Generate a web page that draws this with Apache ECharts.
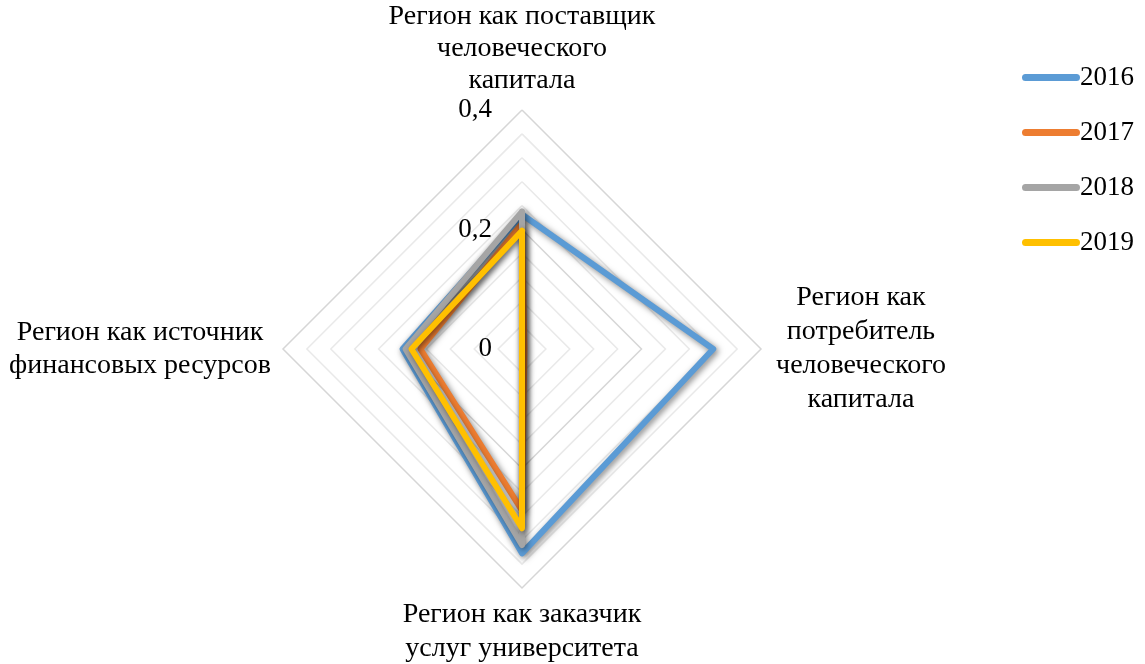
<!DOCTYPE html>
<html>
<head>
<meta charset="utf-8">
<script src="https://cdn.jsdelivr.net/npm/echarts@6/dist/echarts.min.js"></script>
<style>
  html, body { margin: 0; padding: 0; background: #ffffff; }
  #chart { width: 1145px; height: 664px; }
</style>
</head>
<body>
<div id="chart"></div>
<script>
// Indicators, listed counter-clockwise starting from the top axis
const categories = [
  'Регион как поставщик\nчеловеческого\nкапитала',
  'Регион как источник\nфинансовых ресурсов',
  'Регион как заказчик\nуслуг университета',
  'Регион как\nпотребитель\nчеловеческого\nкапитала'
];
const years = ['2016', '2017', '2018', '2019'];
const values2016 = [0.225, 0.200, 0.342, 0.320];
const values2017 = [0.210, 0.170, 0.270, 0.004];
const values2018 = [0.230, 0.195, 0.328, 0.000];
const values2019 = [0.198, 0.185, 0.300, 0.000];
const tickValues = [0, 0.2, 0.4];
const tickLabels = ['0', '0,2', '0,4'];

const seriesValues = [values2016, values2017, values2018, values2019];
const colors = ['#5b9bd5', '#ed7d31', '#a5a5a5', '#ffc000'];
const fontFamily = '"Liberation Serif", "Times New Roman", serif';
const fontSize = 28;
const axisMax = 0.4;

// Rich-text tag per axis title (sets the box the lines are centred in)
const nameTag = ['t', 'l', 'b', 'r'];

// Rings: major ones at 0.2 and 0.4 are a touch darker than the minor ones
const ringColors = [];
for (let i = 0; i <= 10; i++) {
  ringColors.push(i % 5 === 0 ? '#d6d6d6' : '#e9e9e9');
}

const chart = echarts.init(document.getElementById('chart'), null, { renderer: 'canvas' });

chart.setOption({
  backgroundColor: '#ffffff',
  animation: false,
  color: colors,
  legend: {
    orient: 'vertical',
    left: 1017,
    top: 57,
    itemWidth: 58,
    itemHeight: 7,
    itemGap: 24,
    icon: 'path://M3.5,0 L54.5,0 A3.5,3.5 0 0 1 54.5,7 L3.5,7 A3.5,3.5 0 0 1 3.5,0 Z',
    textStyle: { fontFamily: fontFamily, fontSize: 27, color: '#000', padding: [0, 0, 0, -5], lineHeight: 31 },
    data: years
  },
  radar: {
    center: [522, 349],
    radius: 239,
    shape: 'polygon',
    startAngle: 90,
    splitNumber: 10,
    nameGap: 10,
    indicator: categories.map(function (name, i) {
      const ind = { name: name, min: 0, max: axisMax };
      if (i === 0) {
        ind.axisLabel = {
          show: true,
          fontFamily: fontFamily,
          fontSize: 27,
          color: '#000',
          margin: 30,
          formatter: function (v) {
            for (let k = 0; k < tickValues.length; k++) {
              if (Math.abs(v - tickValues[k]) < 1e-9) return tickLabels[k];
            }
            return '';
          }
        };
      }
      return ind;
    }),
    axisName: {
      color: '#000',
      fontFamily: fontFamily,
      fontSize: fontSize,
      lineHeight: 32,
      formatter: function (name) {
        const idx = categories.indexOf(name);
        const tag = nameTag[idx];
        return name.split('\n').map(function (s) { return '{' + tag + '|' + s + '}'; }).join('\n');
      },
      rich: {
        t: { fontFamily: fontFamily, fontSize: fontSize, lineHeight: 32, color: '#000', align: 'center' },
        b: { fontFamily: fontFamily, fontSize: fontSize, lineHeight: 34, color: '#000', width: 275, align: 'center' },
        l: { fontFamily: fontFamily, fontSize: fontSize, lineHeight: 33, color: '#000', width: 266, align: 'center' },
        r: { fontFamily: fontFamily, fontSize: fontSize, lineHeight: 34, color: '#000', width: 180, align: 'center' }
      }
    },
    axisLine: { show: false },
    axisTick: { show: false },
    axisLabel: { show: false },
    splitArea: { show: false },
    splitLine: { lineStyle: { color: ringColors, width: 1.5 } }
  },
  series: [{
    type: 'radar',
    symbol: 'none',
    data: years.map(function (y, i) {
      return {
        name: y,
        value: seriesValues[i],
        lineStyle: {
          color: colors[i],
          width: 6,
          join: 'round',
          cap: 'round',
          shadowColor: 'rgba(0,0,0,0.5)',
          shadowBlur: 6,
          shadowOffsetX: 2,
          shadowOffsetY: 2
        },
        itemStyle: { color: colors[i] }
      };
    })
  }]
});
</script>
</body>
</html>
